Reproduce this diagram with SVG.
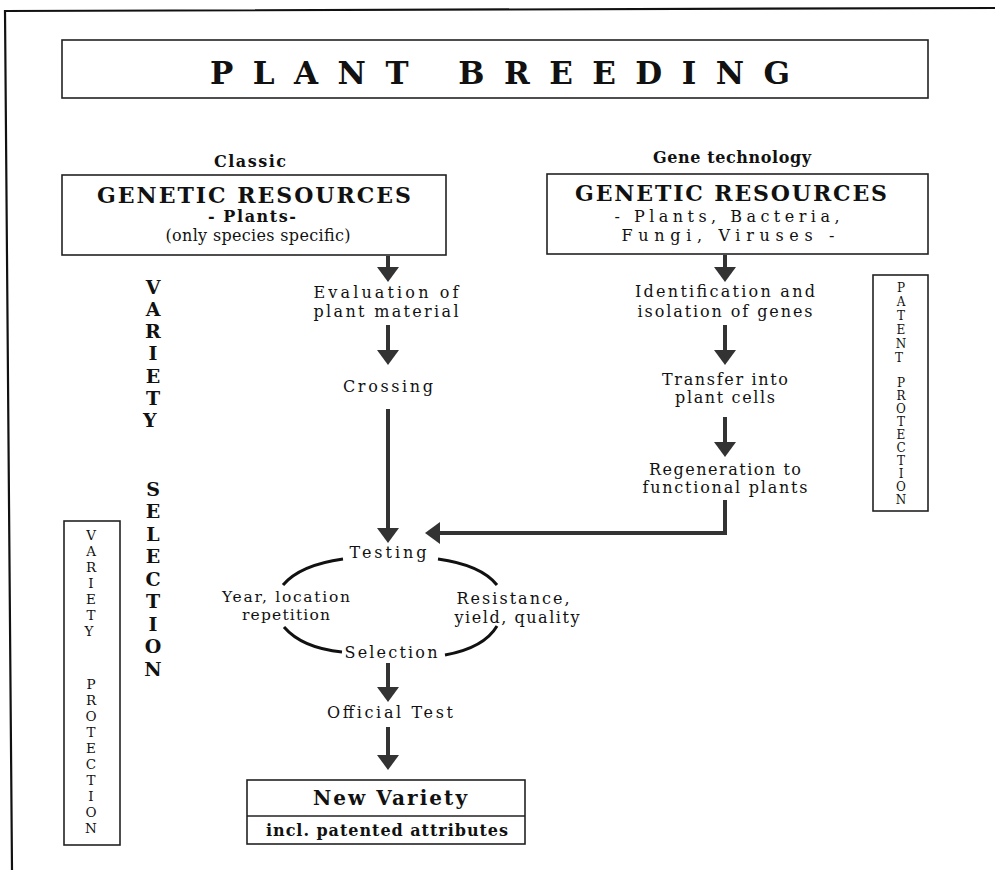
<svg xmlns="http://www.w3.org/2000/svg" width="995" height="870" viewBox="0 0 995 870">
<style>
.box{fill:none;stroke:#222;stroke-width:1.6}
.frame{fill:none;stroke:#111;stroke-width:2.2}
.t{font-family:"DejaVu Serif","Liberation Serif",serif;fill:#111;text-anchor:middle}
.b{font-weight:bold}
.lbl{font-size:16px}
.hd{font-size:16px;font-weight:bold}
.gr{font-size:22px;font-weight:bold}
.sub{font-size:16px}
.vs{font-size:19px;font-weight:bold}
.vp{font-size:13.5px}
.pp{font-size:12px}
.arr{fill:none;stroke:#333;stroke-width:4}
.arc{fill:none;stroke:#111;stroke-width:3}
</style>
<defs>
<marker id="ah" viewBox="0 0 15 22" refX="0" refY="11" markerWidth="15" markerHeight="22" markerUnits="userSpaceOnUse" orient="auto">
<path d="M0,0 L15,11 L0,22 z" fill="#333"/>
</marker>
</defs>
<rect width="995" height="870" fill="#fff"/>
<path class="frame" d="M995,8 L5,11 L12,870"/>

<g id="title">
<rect class="box" x="62" y="40" width="866" height="58"/>
<text class="t b" x="500" y="84" font-size="31" textLength="580">PLANT BREEDING</text>
</g>

<g id="classic-resources">
<text class="t hd" x="250" y="167" textLength="72">Classic</text>
<rect class="box" x="62" y="175" width="384" height="80"/>
<text class="t gr" x="254" y="203" textLength="314">GENETIC RESOURCES</text>
<text class="t sub b" x="252" y="222" textLength="88">- Plants-</text>
<text class="t sub" x="258" y="241" textLength="185">(only species specific)</text>
</g>

<g id="gene-resources">
<text class="t hd" x="732" y="163" textLength="158">Gene technology</text>
<rect class="box" x="547" y="174" width="381" height="80"/>
<text class="t gr" x="731" y="201" textLength="312">GENETIC RESOURCES</text>
<text class="t sub" x="727" y="222" textLength="225">- Plants, Bacteria,</text>
<text class="t sub" x="728" y="241" textLength="213">Fungi, Viruses -</text>
</g>

<g id="variety-selection">
<text class="t vs">
<tspan x="153" y="294">V</tspan><tspan x="153" y="316">A</tspan><tspan x="153" y="338">R</tspan><tspan x="153" y="360">I</tspan><tspan x="153" y="383">E</tspan><tspan x="153" y="405">T</tspan><tspan x="153" y="427">Y</tspan>
<tspan x="153" y="496">S</tspan><tspan x="153" y="518">E</tspan><tspan x="153" y="541">L</tspan><tspan x="153" y="563">E</tspan><tspan x="153" y="586">C</tspan><tspan x="153" y="608">T</tspan><tspan x="153" y="631">I</tspan><tspan x="153" y="653">O</tspan><tspan x="153" y="676">N</tspan>
</text>
</g>

<g id="variety-protection">
<rect class="box" x="64" y="521" width="56" height="324"/>
<text class="t vp">
<tspan x="91" y="540">V</tspan><tspan x="91" y="556">A</tspan><tspan x="91" y="572">R</tspan><tspan x="91" y="588">I</tspan><tspan x="91" y="604">E</tspan><tspan x="91" y="620">T</tspan><tspan x="91" y="636">Y</tspan>
<tspan x="91" y="689">P</tspan><tspan x="91" y="705">R</tspan><tspan x="91" y="721">O</tspan><tspan x="91" y="737">T</tspan><tspan x="91" y="753">E</tspan><tspan x="91" y="769">C</tspan><tspan x="91" y="785">T</tspan><tspan x="91" y="801">I</tspan><tspan x="91" y="817">O</tspan><tspan x="91" y="833">N</tspan>
</text>
</g>

<g id="patent-protection">
<rect class="box" x="873" y="275" width="55" height="236"/>
<text class="t pp">
<tspan x="901" y="292">P</tspan><tspan x="901" y="306">A</tspan><tspan x="901" y="320">T</tspan><tspan x="901" y="334">E</tspan><tspan x="901" y="348">N</tspan><tspan x="901" y="362">T</tspan>
<tspan x="901" y="387">P</tspan><tspan x="901" y="400">R</tspan><tspan x="901" y="413">O</tspan><tspan x="901" y="426">T</tspan><tspan x="901" y="439">E</tspan><tspan x="901" y="452">C</tspan><tspan x="901" y="465">T</tspan><tspan x="901" y="478">I</tspan><tspan x="901" y="491">O</tspan><tspan x="901" y="504">N</tspan>
</text>
</g>

<g id="evaluation"><text class="t lbl" x="386" y="298" textLength="145">Evaluation of</text><text class="t lbl" x="386" y="317" textLength="145">plant material</text></g>
<g id="crossing"><text class="t lbl" x="388" y="392" textLength="90">Crossing</text></g>
<g id="identification"><text class="t lbl" x="725" y="297" textLength="180">Identification and</text><text class="t lbl" x="725" y="317" textLength="175">isolation of genes</text></g>
<g id="transfer"><text class="t lbl" x="725" y="385" textLength="126">Transfer into</text><text class="t lbl" x="725" y="403" textLength="100">plant cells</text></g>
<g id="regeneration"><text class="t lbl" x="725" y="475" textLength="152">Regeneration to</text><text class="t lbl" x="725" y="493" textLength="165">functional plants</text></g>

<g id="testing-cycle">
<text class="t lbl" x="388" y="558" textLength="77">Testing</text>
<text class="t" x="286" y="602" font-size="15.5" textLength="128">Year, location</text>
<text class="t" x="286" y="620" font-size="15.5" textLength="88">repetition</text>
<text class="t lbl" x="513" y="604" textLength="113">Resistance,</text>
<text class="t lbl" x="517" y="623" textLength="125">yield, quality</text>
<text class="t lbl" x="391" y="658" textLength="93">Selection</text>
<path class="arc" d="M343,559 Q300,565 283,585"/>
<path class="arc" d="M438,559 Q481,565 497,585"/>
<path class="arc" d="M284,627 Q302,648 342,652"/>
<path class="arc" d="M445,655 Q484,648 497,626"/>
</g>

<g id="official-test"><text class="t lbl" x="390" y="718" textLength="126">Official Test</text></g>

<g id="new-variety">
<rect class="box" x="247" y="780" width="278" height="64"/>
<line class="box" x1="247" y1="816" x2="525" y2="816"/>
<text class="t b" x="390" y="805" font-size="20" textLength="154">New Variety</text>
<text class="t b" x="387" y="836" font-size="16" textLength="242">incl. patented attributes</text>
</g>

<g id="connectors">
<path class="arr" d="M388,256 V267" marker-end="url(#ah)"/>
<path class="arr" d="M388,325 V350" marker-end="url(#ah)"/>
<path class="arr" d="M388,409 V528" marker-end="url(#ah)"/>
<path class="arr" d="M388,663 V687" marker-end="url(#ah)"/>
<path class="arr" d="M388,727 V755" marker-end="url(#ah)"/>
<path class="arr" d="M725,255 V267" marker-end="url(#ah)"/>
<path class="arr" d="M725,325 V350" marker-end="url(#ah)"/>
<path class="arr" d="M725,417 V442" marker-end="url(#ah)"/>
<path class="arr" d="M725,500 V533 H440" stroke-width="3.5" marker-end="url(#ah)"/>
</g>
</svg>
